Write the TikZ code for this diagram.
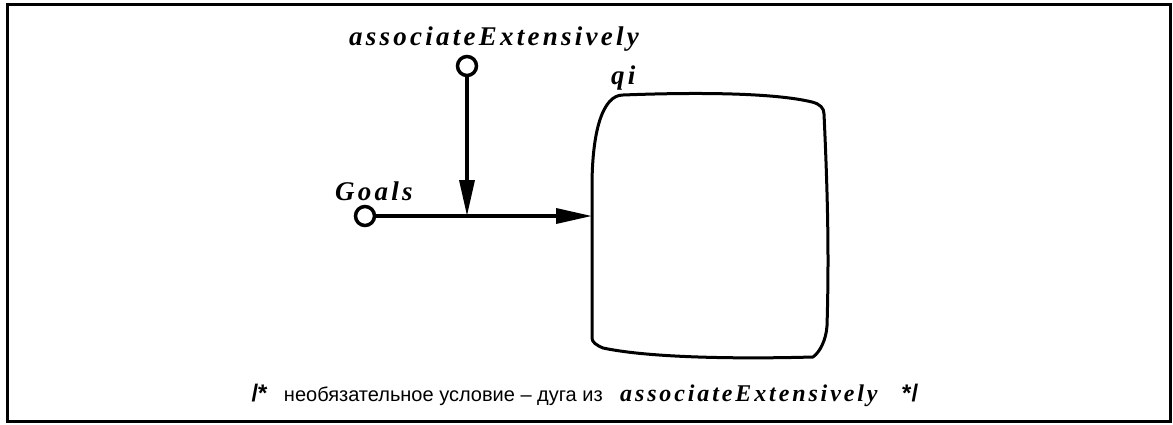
\documentclass[tikz,border=0pt]{standalone}
\usepackage{fontspec}
\setmainfont{Liberation Serif}
\newfontfamily\lblfont[LetterSpace=12]{Liberation Serif}
\newfontfamily\lblfontb[LetterSpace=12]{Liberation Serif}
\newfontfamily\rusfont{Liberation Sans}
\usetikzlibrary{arrows.meta}
\tikzset{
  port/.style={circle,draw,line width=3.5pt,minimum size=19pt,inner sep=0pt,fill=white},
  conn/.style={line width=3.5pt},
  arr/.style={conn,-{Triangle[length=36pt,width=15pt]}},
  lbl/.style={font=\fontsize{27}{30}\selectfont\lblfont\bfseries\itshape,inner sep=0pt},
  rus/.style={font=\fontsize{20}{23}\selectfont\rusfont,inner sep=0pt},
  cmt/.style={font=\fontsize{24}{27}\selectfont\rusfont\bfseries,inner sep=0pt},
  lblb/.style={font=\fontsize{24}{27}\selectfont\lblfontb\bfseries\itshape,inner sep=0pt},
  boxline/.style={line width=3pt,line join=round}
}
\begin{document}
\begin{tikzpicture}[x=1pt,y=-1pt]
\useasboundingbox (0,0) rectangle (1173,424);
\draw[line width=3pt] (7,4) rectangle (1170,421);
% box qi
\draw[boxline] (592,338) -- (592,187)
  .. controls (592,130) and (603,95) .. (623,95)
  .. controls (700,92) and (775,93) .. (812,102)
  .. controls (820,104) and (824,108) .. (824,114)
  .. controls (828,200) and (829,260) .. (827,326)
  .. controls (826,340) and (820,352) .. (813,357)
  .. controls (740,359) and (650,358) .. (603,348)
  .. controls (596,345) and (592,342) .. (592,338) -- cycle;
\coordinate (boxin) at (592,216);
\coordinate (j) at (467,216);
% ports
\node[port] (ae) at (467,66) {};
\node[port] (g) at (365,216) {};
\draw[arr] (ae) -- (j);
\draw[arr] (g) -- (boxin);
% labels
\node[lbl,anchor=base] (aelbl) at (494,45) {associateExtensively};
\node[lbl,anchor=base west] (glbl) at (335,200) {Goals};
\node[lbl,anchor=base west] (qilbl) at (611,84) {qi};
% bottom comment
\node[rus,anchor=base east] (rus) at (603,401) {необязательное условие – дуга из};
\node[lblb,anchor=base west] (ae2) at (620,401) {associateExtensively};
\node[cmt,anchor=base west] (cend) at (902,401) {*/};
\node[cmt,anchor=base east] (cbeg) at ([xshift=-16pt]rus.base west) {/*};
\end{tikzpicture}
\end{document}
